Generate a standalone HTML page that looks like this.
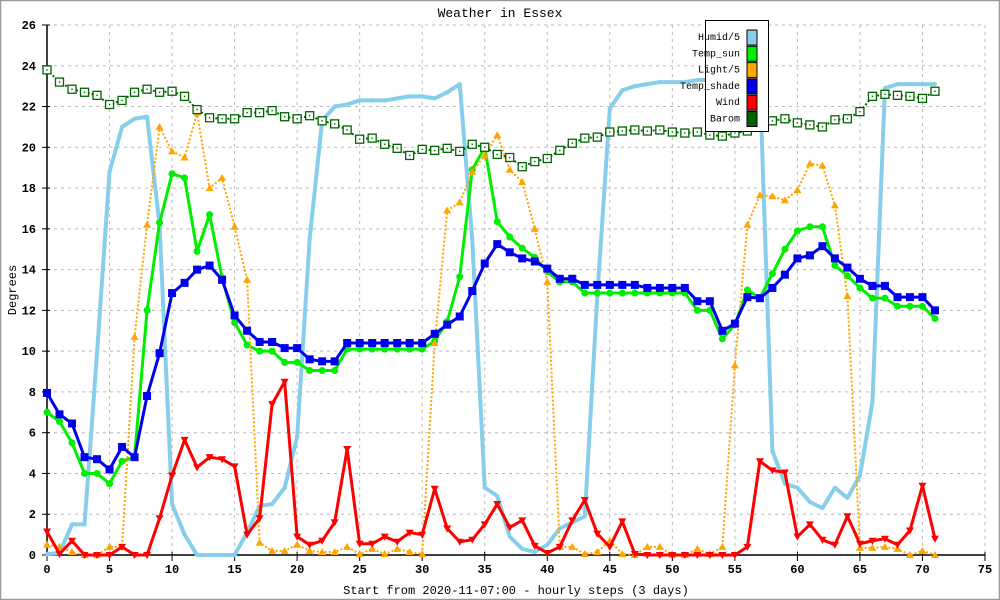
<!DOCTYPE html>
<html><head><meta charset="utf-8"><style>
html,body{margin:0;padding:0;background:#fff}
svg{display:block}
text{font-family:"Liberation Mono","DejaVu Sans Mono",monospace;fill:#000}
</style></head><body>
<svg id="chart" width="1000" height="600" viewBox="0 0 1000 600" xmlns="http://www.w3.org/2000/svg">
<rect x="0.5" y="0.5" width="999" height="599" fill="#fff" stroke="#999" stroke-width="1.5"/>
<text x="500" y="17" text-anchor="middle" font-size="13">Weather in Essex</text>
<g id="grid"></g>
<g id="axes"></g>
<g id="series"></g>
<text x="516" y="594" text-anchor="middle" font-size="12">Start from 2020-11-07:00 - hourly steps (3 days)</text>
<text transform="translate(16,290) rotate(-90)" text-anchor="middle" font-size="12">Degrees</text>
<g id="legend"></g>
</svg>
<script>
const xTicks=[0,5,10,15,20,25,30,35,40,45,50,55,60,65,70,75];
const yTicks=[0,2,4,6,8,10,12,14,16,18,20,22,24,26];
const seriesNames=["Humid/5","Temp_sun","Light/5","Temp_shade","Wind","Barom"];
const humid=[0.05,0.1,1.5,1.5,9.9,18.8,21,21.4,21.5,16.2,2.5,1.0,0,0,0,0,1.1,2.4,2.5,3.3,5.8,15.5,21.3,22.0,22.1,22.3,22.3,22.3,22.4,22.5,22.5,22.4,22.7,23.1,15.5,3.3,2.9,0.9,0.3,0.15,0.5,1.3,1.6,1.9,12.7,21.9,22.8,23.0,23.1,23.2,23.2,23.2,23.3,23.3,23.3,23.3,23.3,23.2,5.1,3.5,3.3,2.6,2.3,3.3,2.8,3.9,7.5,22.9,23.1,23.1,23.1,23.1];
const tempSun=[7.0,6.55,5.5,4.0,4.0,3.5,4.6,4.8,12.0,16.3,18.7,18.5,14.9,16.7,13.6,11.4,10.3,10.0,10.0,9.45,9.45,9.05,9.05,9.05,10.1,10.1,10.1,10.1,10.1,10.1,10.1,10.5,11.45,13.65,18.9,20.0,16.35,15.6,15.05,14.6,13.9,13.4,13.4,12.85,12.85,12.85,12.85,12.85,12.85,12.85,12.85,12.85,12.0,12.0,10.6,11.3,13.0,12.6,13.8,15.0,15.9,16.1,16.1,14.2,13.7,13.1,12.6,12.6,12.2,12.2,12.2,11.6];
const light=[0.5,0.4,0.15,0,0,0.4,0.4,10.7,16.2,21.0,19.8,19.5,21.7,18.0,18.5,16.1,13.5,0.6,0.2,0.2,0.5,0.2,0.15,0.15,0.4,0.05,0.3,0.05,0.3,0.15,0.05,10.4,16.9,17.3,18.8,19.6,20.6,18.9,18.3,16.0,13.4,0.4,0.4,0.05,0.15,0.7,0.05,0,0.4,0.4,0,0,0.3,0.05,0.4,9.3,16.2,17.65,17.6,17.4,17.9,19.2,19.1,17.15,12.7,0.35,0.35,0.4,0.3,0,0.2,0];
const tempShade=[7.95,6.9,6.45,4.8,4.7,4.2,5.3,4.8,7.8,9.9,12.85,13.35,14.0,14.2,13.5,11.75,11.0,10.45,10.45,10.15,10.15,9.6,9.5,9.5,10.4,10.4,10.4,10.4,10.4,10.4,10.4,10.85,11.3,11.7,12.95,14.3,15.25,14.85,14.55,14.4,14.05,13.55,13.55,13.25,13.25,13.25,13.25,13.25,13.1,13.1,13.1,13.1,12.45,12.45,11.0,11.35,12.65,12.6,13.1,13.75,14.55,14.7,15.15,14.55,14.1,13.55,13.2,13.2,12.65,12.65,12.65,12.0];
const wind=[1.15,0.05,0.7,0,0,0,0.4,0,0,1.8,3.9,5.65,4.3,4.8,4.7,4.35,1.0,1.8,7.4,8.5,0.9,0.5,0.7,1.6,5.2,0.55,0.55,0.9,0.65,1.1,1.0,3.25,1.3,0.65,0.75,1.5,2.5,1.35,1.7,0.45,0.1,0.4,1.7,2.7,1.05,0.4,1.65,0.05,0,0,0,0,0,0,0,0,0.4,4.6,4.15,4.05,0.9,1.5,0.75,0.5,1.9,0.55,0.7,0.8,0.5,1.2,3.4,0.8];
const barom=[23.8,23.2,22.85,22.7,22.55,22.1,22.3,22.7,22.85,22.7,22.75,22.5,21.85,21.45,21.4,21.4,21.7,21.7,21.8,21.5,21.4,21.55,21.3,21.15,20.85,20.4,20.45,20.15,19.95,19.6,19.9,19.85,19.95,19.8,20.15,20.0,19.65,19.5,19.05,19.3,19.45,19.85,20.2,20.45,20.5,20.75,20.8,20.85,20.8,20.85,20.75,20.7,20.75,20.6,20.55,20.7,20.8,21.0,21.3,21.4,21.2,21.1,21.0,21.35,21.4,21.75,22.5,22.6,22.55,22.5,22.4,22.75];

const NS="http://www.w3.org/2000/svg";
const X0=47,X1=985,Y0=555,Y1=25,XMAX=75,YMAX=26;
function sx(v){return X0+v*(X1-X0)/XMAX;}
function sy(v){return Y0-v*(Y0-Y1)/YMAX;}
function mk(tag,attrs,parent){const e=document.createElementNS(NS,tag);for(const k in attrs)e.setAttribute(k,attrs[k]);parent.appendChild(e);return e;}
const grid=document.getElementById('grid'),axes=document.getElementById('axes'),ser=document.getElementById('series'),leg=document.getElementById('legend');

yTicks.forEach(t=>{
  if(t>0){const g=mk('line',{x1:X0,x2:X1,y1:sy(t),y2:sy(t),stroke:'#bbb','stroke-dasharray':'3,4'},grid);
  
  }
  const tk=mk('line',{x1:X0-5,x2:X0+3,y1:sy(t),y2:sy(t),stroke:'#000'},axes);
  
  
  const lb=mk('text',{x:X0-11,y:sy(t)+4,'text-anchor':'end','font-size':'12','font-weight':'bold'},axes);
  lb.textContent=t;
  
  
});
xTicks.forEach(t=>{
  if(t>0){const g=mk('line',{x1:sx(t),x2:sx(t),y1:Y1,y2:Y0,stroke:'#bbb','stroke-dasharray':'3,4'},grid);
  
  }
  const tk=mk('line',{x1:sx(t),x2:sx(t),y1:Y0-3,y2:Y0+6,stroke:'#000'},axes);
  
  
  const lb=mk('text',{x:sx(t),y:Y0+18,'text-anchor':'middle','font-size':'12','font-weight':'bold'},axes);
  lb.textContent=t;
  
  
});
const ax1=mk('line',{x1:X0,x2:X0,y1:Y1,y2:Y0,stroke:'#000','stroke-width':1.5},axes);


const ax2=mk('line',{x1:X0,x2:X1,y1:Y0,y2:Y0,stroke:'#000','stroke-width':1.5},axes);



function marker(type,x,y,color,g){
  let e;
  if(type==='circle')e=mk('circle',{cx:x,cy:y,r:3.5,fill:color},g);
  else if(type==='dot')e=mk('path',{d:`M${x-2.5},${y}L${x},${y-2.5}L${x+2.5},${y}L${x},${y+2.5}Z`,fill:color},g);
  else if(type==='tri')e=mk('path',{d:`M${x},${y-4}L${x+4},${y+3}L${x-4},${y+3}Z`,fill:color},g);
  else if(type==='tridown')e=mk('path',{d:`M${x},${y+4}L${x+4},${y-3}L${x-4},${y-3}Z`,fill:color},g);
  else if(type==='square')e=mk('rect',{x:x-4,y:y-4,width:8,height:8,fill:color},g);
  else if(type==='hsquare'){e=mk('rect',{x:x-4,y:y-4,width:8,height:8,fill:'#fff',stroke:color,'stroke-width':1.3},g);mk('rect',{x:x-0.7,y:y-0.7,width:1.4,height:1.4,fill:color},g);}
  return e;
}
const defs=[
 {data:humid,color:'#87ceeb',w:4,dash:null,m:'dot',name:'humid'},
 {data:tempSun,color:'#00ee00',w:3,dash:null,m:'circle',name:'temp-sun'},
 {data:light,color:'#ffa500',w:2,dash:'2,2',m:'tri',name:'light'},
 {data:tempShade,color:'#0000ee',w:3,dash:null,m:'square',name:'temp-shade'},
 {data:wind,color:'#ff0000',w:3,dash:null,m:'tridown',name:'wind'},
 {data:barom,color:'#006400',w:2,dash:'2,2',m:'hsquare',name:'barom'}
];
defs.forEach(s=>{
  const g=mk('g',{},ser);
  
  
  const pts=s.data.map((v,i)=>sx(i)+','+sy(v)).join(' ');
  const pl=mk('polyline',{points:pts,fill:'none',stroke:s.color,'stroke-width':s.w,'stroke-linejoin':'round'},g);
  if(s.dash)pl.setAttribute('stroke-dasharray',s.dash);
  
  
  s.data.forEach((v,i)=>{
    const m=marker(s.m,sx(i),sy(v),s.color,g);
    
    
  });
});
// legend
const lb=mk('rect',{x:705.5,y:20.5,width:63,height:111,fill:'#fff',stroke:'#000','stroke-width':1},leg);


const legColors=['#87ceeb','#00ee00','#ffa500','#0000ee','#ff0000','#006400'];
seriesNames.forEach((n,i)=>{
  const y=36+i*16.3;
  const t=mk('text',{x:740,y:y+4,'text-anchor':'end','font-size':'10'},leg);
  t.textContent=n;
  
  
  const r=mk('rect',{x:747,y:y-6,width:10,height:15,fill:legColors[i],stroke:'#000','stroke-width':1},leg);
  
  
});
</script>
</body></html>
